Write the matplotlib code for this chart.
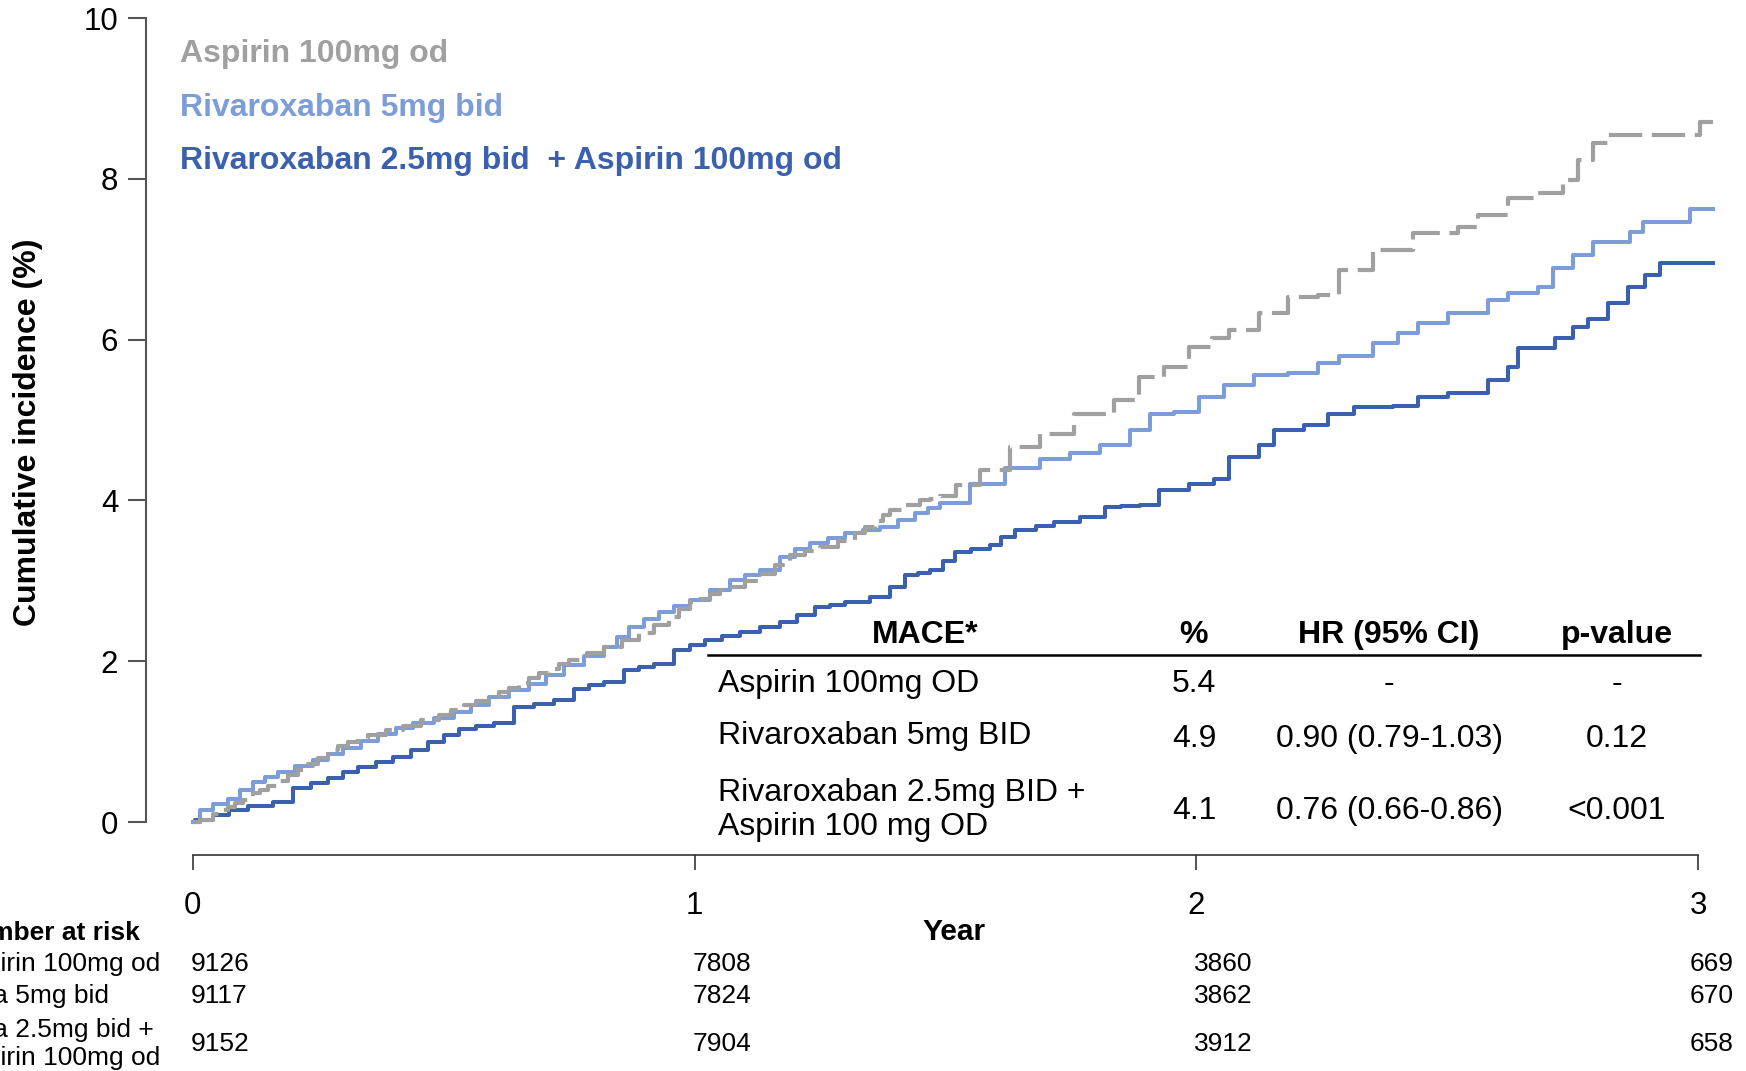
import matplotlib
matplotlib.use("Agg")
import matplotlib.pyplot as plt
import matplotlib.transforms as mtransforms

plt.rcParams['font.family'] = ['Liberation Sans', 'DejaVu Sans']

# ---------------- data ----------------
asp_t = [0, 0.015, 0.04, 0.055, 0.07, 0.085, 0.10, 0.12, 0.135, 0.15, 0.17, 0.19, 0.21, 0.23, 0.25,
         0.27, 0.29, 0.31, 0.33, 0.35, 0.385, 0.42, 0.455, 0.49, 0.515, 0.54, 0.565, 0.59, 0.61,
         0.63, 0.65, 0.67, 0.69, 0.71, 0.73, 0.75, 0.785, 0.82, 0.855, 0.89, 0.92, 0.95, 0.97,
         0.99, 1.01, 1.03, 1.05, 1.07, 1.10, 1.13, 1.16, 1.19, 1.22, 1.25, 1.285, 1.32, 1.34,
         1.36, 1.375, 1.39, 1.42, 1.45, 1.47, 1.489, 1.52, 1.568, 1.628, 1.688, 1.757, 1.836,
         1.886, 1.935, 1.985, 2.03, 2.064, 2.124, 2.183, 2.243, 2.283, 2.352, 2.432, 2.521,
         2.561, 2.62, 2.68, 2.73, 2.76, 2.79, 2.82, 3.003, 3.03]
asp_v = [0, 0.02, 0.10, 0.15, 0.19, 0.24, 0.28, 0.36, 0.40, 0.45, 0.51, 0.58, 0.65, 0.72, 0.80,
         0.89, 0.94, 0.99, 1.03, 1.08, 1.14, 1.20, 1.27, 1.33, 1.39, 1.45, 1.50, 1.56, 1.62,
         1.67, 1.73, 1.79, 1.85, 1.90, 1.96, 2.01, 2.10, 2.18, 2.27, 2.35, 2.45, 2.55, 2.65,
         2.74, 2.78, 2.83, 2.88, 2.92, 3.00, 3.09, 3.20, 3.32, 3.37, 3.42, 3.50, 3.59, 3.67,
         3.75, 3.82, 3.88, 3.94, 4.00, 4.02, 4.05, 4.19, 4.38, 4.67, 4.83, 5.08, 5.25,
         5.54, 5.66, 5.91, 6.02, 6.12, 6.33, 6.53, 6.55, 6.87, 7.11, 7.32, 7.40,
         7.55, 7.76, 7.82, 7.98, 8.23, 8.44, 8.54, 8.71, 8.71]

riv_t = [0, 0.015, 0.04, 0.07, 0.095, 0.12, 0.145, 0.17, 0.205, 0.24, 0.27, 0.30, 0.335, 0.37,
         0.405, 0.44, 0.48, 0.52, 0.555, 0.59, 0.63, 0.67, 0.705, 0.74, 0.78, 0.82, 0.845, 0.87,
         0.90, 0.93, 0.96, 0.99, 1.03, 1.07, 1.10, 1.13, 1.17, 1.20, 1.23, 1.265, 1.30, 1.335,
         1.37, 1.405, 1.44, 1.465, 1.489, 1.549, 1.618, 1.688, 1.748, 1.807, 1.867, 1.907,
         1.956, 2.005, 2.054, 2.114, 2.183, 2.243, 2.283, 2.352, 2.402, 2.442, 2.501, 2.581,
         2.621, 2.68, 2.71, 2.75, 2.79, 2.864, 2.889, 2.983, 3.03]
riv_v = [0, 0.15, 0.22, 0.29, 0.40, 0.50, 0.56, 0.62, 0.70, 0.77, 0.85, 0.92, 1.01, 1.10,
         1.17, 1.23, 1.30, 1.37, 1.46, 1.56, 1.64, 1.72, 1.83, 1.95, 2.06, 2.18, 2.30, 2.43,
         2.52, 2.61, 2.69, 2.76, 2.88, 3.01, 3.07, 3.13, 3.30, 3.39, 3.47, 3.53, 3.59, 3.63,
         3.67, 3.76, 3.84, 3.90, 3.97, 4.21, 4.40, 4.52, 4.59, 4.69, 4.88, 5.08,
         5.10, 5.29, 5.43, 5.56, 5.58, 5.71, 5.80, 5.96, 6.08, 6.21, 6.33, 6.49,
         6.58, 6.66, 6.89, 7.05, 7.22, 7.34, 7.46, 7.62, 7.62]

combo_t = [0, 0.005, 0.04, 0.073, 0.11, 0.16, 0.20, 0.235, 0.27, 0.30, 0.33, 0.365, 0.40, 0.435,
           0.47, 0.50, 0.53, 0.565, 0.60, 0.64, 0.68, 0.72, 0.76, 0.79, 0.82, 0.86, 0.89, 0.92,
           0.96, 0.99, 1.02, 1.055, 1.09, 1.13, 1.17, 1.205, 1.24, 1.27, 1.30, 1.35, 1.39, 1.42,
           1.445, 1.47, 1.495, 1.519, 1.55, 1.588, 1.61, 1.638, 1.68, 1.717, 1.767, 1.817, 1.85,
           1.887, 1.926, 1.986, 2.035, 2.065, 2.125, 2.155, 2.214, 2.263, 2.313, 2.392, 2.442,
           2.501, 2.581, 2.621, 2.641, 2.715, 2.75, 2.78, 2.82, 2.86, 2.894, 2.924, 3.03]
combo_v = [0, 0.02, 0.09, 0.15, 0.20, 0.25, 0.42, 0.49, 0.55, 0.62, 0.69, 0.75, 0.81, 0.90,
           1.00, 1.08, 1.16, 1.19, 1.23, 1.43, 1.47, 1.52, 1.66, 1.70, 1.74, 1.89, 1.93, 1.97,
           2.14, 2.20, 2.26, 2.31, 2.36, 2.42, 2.49, 2.58, 2.67, 2.70, 2.74, 2.80, 2.92, 3.07,
           3.10, 3.13, 3.25, 3.36, 3.40, 3.45, 3.54, 3.63, 3.68, 3.73, 3.80, 3.92, 3.93,
           3.94, 4.13, 4.21, 4.27, 4.54, 4.69, 4.88, 4.94, 5.08, 5.16, 5.17, 5.29,
           5.33, 5.50, 5.66, 5.89, 6.02, 6.16, 6.26, 6.45, 6.66, 6.80, 6.95, 6.95]

legend_labels = ["Aspirin 100mg od", "Rivaroxaban 5mg bid", "Rivaroxaban 2.5mg bid  + Aspirin 100mg od"]

x_ticks = [0, 1, 2, 3]
y_ticks = [0, 2, 4, 6, 8, 10]

risk_labels = ["Aspirin 100mg od", "Riva 5mg bid", "Riva 2.5mg bid +\nAspirin 100mg od"]
risk_asp = [9126, 7808, 3860, 669]
risk_riv = [9117, 7824, 3862, 670]
risk_combo = [9152, 7904, 3912, 658]

table_header = ["MACE*", "%", "HR (95% CI)", "p-value"]
table_groups = ["Aspirin 100mg OD", "Rivaroxaban 5mg BID", "Rivaroxaban 2.5mg BID +\nAspirin 100 mg OD"]
table_pct = ["5.4", "4.9", "4.1"]
table_hr = ["-", "0.90 (0.79-1.03)", "0.76 (0.66-0.86)"]
table_p = ["-", "0.12", "<0.001"]

# ---------------- styling ----------------
GRAY = "#A0A0A0"
LBLUE = "#7D9DD8"
DBLUE = "#3A60AE"

W, H = 1746, 1071
fig = plt.figure(figsize=(W / 100, H / 100), dpi=100)

def fx(px):
    return px / W

def fy(py):
    return 1 - py / H

ax = fig.add_axes([fx(146), fy(855), fx(1720) - fx(146), fy(18) - fy(855)])
ax.set_xlim(-0.0928, 3.043)
ax.set_ylim(-0.41, 10)

ax.plot(combo_t, combo_v, drawstyle="steps-post", color=DBLUE, lw=2.9, zorder=3)
ax.plot(riv_t, riv_v, drawstyle="steps-post", color=LBLUE, lw=2.9, zorder=4)
ax.plot(asp_t, asp_v, drawstyle="steps-post", color=GRAY, lw=3.0, zorder=5,
        linestyle=(0, (8.0, 2.3)))

for s in ["top", "right"]:
    ax.spines[s].set_visible(False)
ax.spines["left"].set_bounds(0, 10)
ax.spines["bottom"].set_bounds(0, 3)
ax.spines["left"].set_color("#555555")
ax.spines["left"].set_linewidth(1.5)
ax.spines["bottom"].set_color("#333333")
ax.spines["bottom"].set_linewidth(1.2)

ax.set_xticks(x_ticks)
ax.set_yticks(y_ticks)
ax.set_xticklabels([str(v) for v in x_ticks])
ax.set_yticklabels([str(v) for v in y_ticks])
ax.tick_params(axis="y", length=13, width=1.5, color="#555555", pad=7, labelsize=22.5)
ax.tick_params(axis="x", length=11, width=1.2, color="#333333", pad=15, labelsize=22.5)

# y label
fig.text(fx(28), fy(432), "Cumulative incidence (%)", rotation=90, ha="center", va="center",
         fontsize=23, fontweight="bold")
# x label
fig.text(fx(954), fy(932), "Year", ha="center", va="center", fontsize=21.5, fontweight="bold")

# legend texts
for lab, col, py in zip(legend_labels, [GRAY, LBLUE, DBLUE], [54, 108, 161]):
    fig.text(fx(180), fy(py), lab, color=col, fontsize=23, fontweight="bold", ha="left", va="center")

# table
hdr_x = [925, 1194, 1389, 1617]
for h, px in zip(table_header, hdr_x):
    fig.text(fx(px), fy(635), h, ha="center", va="center", fontsize=23, fontweight="bold")
fig.add_artist(plt.Line2D([fx(708), fx(1700)], [fy(655), fy(655)], color="black", lw=1.8))
row_label_y = [684, 736, 810]
row_val_y = [684, 739, 811]
for i in range(3):
    fig.text(fx(718), fy(row_label_y[i]), table_groups[i], ha="left", va="center",
             fontsize=23, linespacing=1.15)
    fig.text(fx(hdr_x[1]), fy(row_val_y[i]), table_pct[i], ha="center", va="center", fontsize=23)
    fig.text(fx(hdr_x[2]), fy(row_val_y[i]), table_hr[i], ha="center", va="center", fontsize=23)
    fig.text(fx(hdr_x[3]), fy(row_val_y[i]), table_p[i], ha="center", va="center", fontsize=23)

# number at risk
fig.text(fx(-45), fy(933), "Number at risk", ha="left", va="center", fontsize=19, fontweight="bold")
for lab, py in zip(risk_labels, [964, 996, 1044]):
    fig.text(fx(-45), fy(py), lab, ha="left", va="center", fontsize=19, linespacing=1.2)

trans = mtransforms.blended_transform_factory(ax.transData, fig.transFigure)
for vals, py in zip([risk_asp, risk_riv, risk_combo], [964, 996, 1044]):
    for xt, v in zip(x_ticks, vals):
        off = -0.017 if xt == x_ticks[-1] else -0.004
        fig.text(xt + off, fy(py), str(v), transform=trans, ha="left", va="center", fontsize=19)

fig.savefig("out.png", dpi=100)
